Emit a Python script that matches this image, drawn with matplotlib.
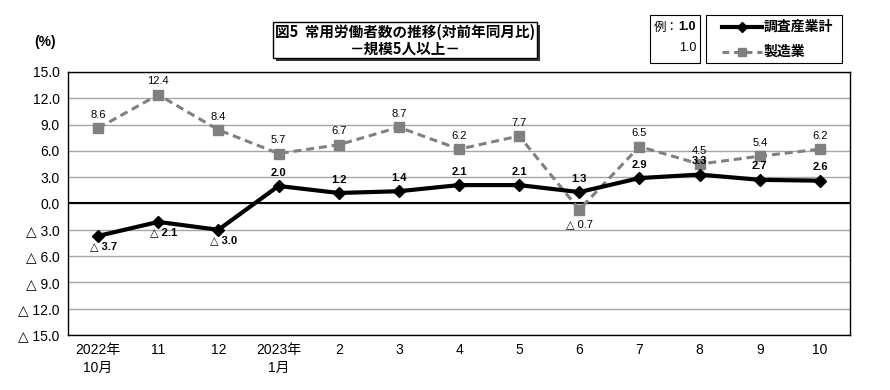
import matplotlib
matplotlib.use('Agg')
import matplotlib.pyplot as plt
from matplotlib.patches import Rectangle
from matplotlib.lines import Line2D

# Liberation for digits, DejaVu for the narrow triangle, Noto for kanji
plt.rcParams['font.family'] = ['Liberation Sans', 'DejaVu Sans', 'Noto Sans CJK JP']

# data
months = ['2022年\n10月', '11', '12', '2023年\n1月', '2', '3', '4', '5', '6',
          '7', '8', '9', '10']
all_industries = [-3.7, -2.1, -3.0, 2.0, 1.2, 1.4, 2.1, 2.1, 1.3, 2.9, 3.3, 2.7, 2.6]
manufacturing = [8.6, 12.4, 8.4, 5.7, 6.7, 8.7, 6.2, 7.7, -0.7, 6.5, 4.5, 5.4, 6.2]
yticks = [15, 12, 9, 6, 3, 0, -3, -6, -9, -12, -15]

W, H = 890, 390
JP = ['Noto Sans CJK JP', 'DejaVu Sans']


def fx(px):
    return px / W


def fy(py):
    return 1 - py / H


def fmt(v):
    return f'{v:.1f}' if v >= 0 else f'△ {abs(v):.1f}'


fig = plt.figure(figsize=(W / 100, H / 100), dpi=100)
ax = fig.add_axes([fx(68), fy(335), (850 - 68) / W, (335 - 72) / H])

x = list(range(len(months)))
ax.plot(x, manufacturing, color='#808080', lw=2.2, ls=(0, (2.6, 1.6)),
        marker='s', ms=6.5, zorder=3)
ax.plot(x, all_industries, color='black', lw=3, marker='D', ms=6.5, zorder=4)

ax.set_xlim(-0.5, len(months) - 0.5)
ax.set_ylim(-15, 15)
ax.set_yticks(yticks)
ax.set_yticklabels([fmt(v) for v in yticks], fontsize=10)
ax.set_xticks(x)
ax.set_xticklabels(months, fontsize=10, linespacing=1.3)
ax.tick_params(length=0, pad=6)
ax.grid(axis='y', color='#a6a6a6', lw=1, zorder=0)
ax.axhline(0, color='black', lw=1.5, zorder=2)
for s in ax.spines.values():
    s.set_color('black')
    s.set_linewidth(1)

for i, v in enumerate(manufacturing):
    if v >= 0:
        ax.annotate(fmt(v), (i, v), xytext=(0, 6), textcoords='offset points',
                    ha='center', va='bottom', fontsize=8)
    else:
        ax.annotate(fmt(v), (i, v), xytext=(0, -7), textcoords='offset points',
                    ha='center', va='top', fontsize=8)

for i, v in enumerate(all_industries):
    if v >= 0:
        ax.annotate(fmt(v), (i, v), xytext=(0, 6), textcoords='offset points',
                    ha='center', va='bottom', fontsize=8, fontweight='bold')
    else:
        ax.annotate(fmt(v), (i, v), xytext=(4, -4), textcoords='offset points',
                    ha='center', va='top', fontsize=8, fontweight='bold')

fig.text(fx(45), fy(42), '(%)', ha='center', va='center', fontsize=10,
         fontweight='bold')

# title box with shadow
fig.add_artist(Rectangle((fx(276), fy(61)), (537 - 273) / W, 36 / H,
                         transform=fig.transFigure, facecolor='#333333',
                         edgecolor='none'))
fig.add_artist(Rectangle((fx(273), fy(58)), (537 - 273) / W, 36 / H,
                         transform=fig.transFigure, facecolor='white',
                         edgecolor='black', lw=1))
fig.text(fx(405), fy(32), '図5  常用労働者数の推移(対前年同月比)', ha='center',
         va='center', fontsize=10.5, fontweight='bold', family=JP)
fig.text(fx(405), fy(49), '－規模5人以上－', ha='center', va='center',
         fontsize=10.5, fontweight='bold', family=JP)

# example box
fig.add_artist(Rectangle((fx(650), fy(63)), 50 / W, 48 / H,
                         transform=fig.transFigure, facecolor='white',
                         edgecolor='black', lw=0.8))
fig.text(fx(654), fy(27), '例：', ha='left', va='center', fontsize=9, family=JP)
fig.text(fx(696), fy(27), '1.0', ha='right', va='center', fontsize=9,
         fontweight='bold')
fig.text(fx(696), fy(48), '1.0', ha='right', va='center', fontsize=9)

# legend box
fig.add_artist(Rectangle((fx(706), fy(63)), 136 / W, 48 / H,
                         transform=fig.transFigure, facecolor='white',
                         edgecolor='black', lw=0.8))
fig.add_artist(Line2D([fx(722), fx(762)], [fy(27), fy(27)],
                      transform=fig.transFigure, color='black', lw=3))
fig.add_artist(Line2D([fx(742)], [fy(27)], transform=fig.transFigure,
                      color='black', marker='D', ms=5))
fig.text(fx(764), fy(27), '調査産業計', ha='left', va='center', fontsize=10,
         fontweight='bold', family=JP)
fig.add_artist(Line2D([fx(722), fx(762)], [fy(52), fy(52)],
                      transform=fig.transFigure, color='#808080', lw=2.2,
                      ls=(0, (2.2, 1.6))))
fig.add_artist(Line2D([fx(742)], [fy(52)], transform=fig.transFigure,
                      color='#808080', marker='s', ms=6))
fig.text(fx(764), fy(52), '製造業', ha='left', va='center', fontsize=10,
         fontweight='bold', family=JP)

fig.savefig('out.png', dpi=100)
